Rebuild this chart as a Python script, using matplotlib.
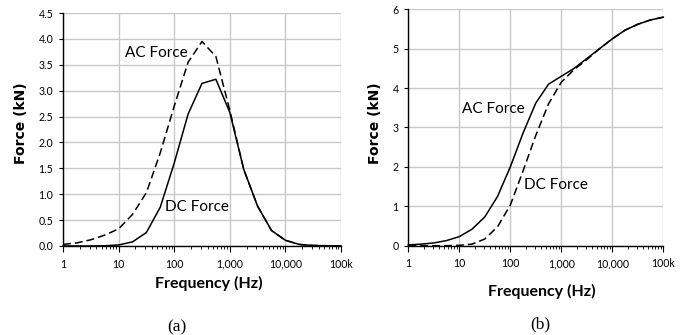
import matplotlib
matplotlib.use("Agg")
import matplotlib.pyplot as plt
from matplotlib.ticker import FixedLocator, FixedFormatter, LogLocator, NullFormatter

freq = [1, 1.78, 3.16, 5.62, 10, 17.8, 31.6, 56.2, 100, 178, 316, 562,
        1000, 1780, 3160, 5620, 10000, 17800, 31600, 56200, 100000]

# panel (a)
a_dc = [0.0, 0.0, 0.0, 0.005, 0.02, 0.08, 0.26, 0.75, 1.6, 2.55, 3.14, 3.22,
        2.58, 1.48, 0.77, 0.30, 0.11, 0.03, 0.01, 0.005, 0.0]
a_ac = [0.03, 0.06, 0.12, 0.21, 0.33, 0.61, 1.03, 1.8, 2.7, 3.55, 3.95, 3.66,
        2.62, 1.48, 0.77, 0.30, 0.11, 0.03, 0.01, 0.005, 0.0]

# panel (b)
b_ac = [0.02, 0.04, 0.07, 0.13, 0.23, 0.42, 0.73, 1.25, 2.0, 2.86, 3.62, 4.1,
        4.3, 4.5, 4.75, 5.0, 5.25, 5.47, 5.62, 5.73, 5.8]
b_dc = [0.0, 0.0, 0.0, 0.0, 0.01, 0.04, 0.17, 0.48, 1.03, 1.9, 2.8, 3.6,
        4.15, 4.47, 4.72, 5.0, 5.25, 5.47, 5.62, 5.73, 5.8]

xticks = [1, 10, 100, 1000, 10000, 100000]
xticklabels = ["1", "10", "100", "1,000", "10,000", "100k"]
a_yticks = [0.0, 0.5, 1.0, 1.5, 2.0, 2.5, 3.0, 3.5, 4.0, 4.5]
a_yticklabels = ["0.0", "0.5", "1.0", "1.5", "2.0", "2.5", "3.0", "3.5", "4.0", "4.5"]
b_yticks = [0, 1, 2, 3, 4, 5, 6]
b_yticklabels = ["0", "1", "2", "3", "4", "5", "6"]

TICKFONT = ["Lato", "DejaVu Sans"]
W, H = 685, 335
fig = plt.figure(figsize=(W / 100, H / 100), dpi=100)

dash = (0, (5.2, 2.6))
lw = 1.1

def style(ax, yticks, yticklabels, ymax):
    ax.set_xscale("log")
    ax.set_xlim(1, 100000)
    ax.set_ylim(0, ymax)
    ax.xaxis.set_major_locator(FixedLocator(xticks))
    ax.xaxis.set_major_formatter(FixedFormatter(xticklabels))
    ax.xaxis.set_minor_locator(LogLocator(base=10, subs=range(2, 10)))
    ax.xaxis.set_minor_formatter(NullFormatter())
    ax.set_yticks(yticks)
    ax.set_yticklabels(yticklabels)
    for s in ("top", "right"):
        ax.spines[s].set_visible(False)
    for s in ("left", "bottom"):
        ax.spines[s].set_linewidth(1.0)
        ax.spines[s].set_color("black")
    ax.grid(True, which="major", color="#c8c8c8", linewidth=1.0)
    ax.set_axisbelow(True)
    ax.tick_params(axis="x", which="major", direction="out", length=4, width=0.8,
                   pad=5, labelsize=7.6, colors="black")
    ax.tick_params(axis="x", which="minor", direction="out", length=2.5, width=0.6)
    ax.tick_params(axis="y", which="major", direction="out", length=3, width=0.8,
                   pad=4, labelsize=7.6)
    for lab in ax.get_xticklabels() + ax.get_yticklabels():
        lab.set_family(TICKFONT)

# (a)
ax1 = fig.add_axes([63 / W, 1 - 246 / H, 278 / W, 233 / H])
ax1.plot(freq, a_ac, color="black", lw=lw, linestyle=dash, dash_capstyle="butt",
         clip_on=False)
ax1.plot(freq, a_dc, color="black", lw=lw, clip_on=False)
style(ax1, a_yticks, a_yticklabels, 4.5)
ax1.text(0.337, 0.828, "AC Force", transform=ax1.transAxes, ha="center", va="center",
         fontsize=11, family=TICKFONT)
ax1.text(0.482, 0.167, "DC Force", transform=ax1.transAxes, ha="center", va="center",
         fontsize=11, family=TICKFONT)

# (b)
ax2 = fig.add_axes([408.3 / W, 1 - 245.7 / H, 255 / W, 236.4 / H])
ax2.plot(freq, b_dc, color="black", lw=lw, linestyle=dash, dash_capstyle="butt",
         clip_on=False)
ax2.plot(freq, b_ac, color="black", lw=lw, clip_on=False)
style(ax2, b_yticks, b_yticklabels, 6)
ax2.text(0.332, 0.578, "AC Force", transform=ax2.transAxes, ha="center", va="center",
         fontsize=11, family=TICKFONT)
ax2.text(0.579, 0.257, "DC Force", transform=ax2.transAxes, ha="center", va="center",
         fontsize=11, family=TICKFONT)

# axis titles and panel labels (figure pixel positions)
def ftext(x, y, s, **kw):
    fig.text(x / W, 1 - y / H, s, ha="center", va="center", **kw)

ftext(209, 283, "Frequency (Hz)", fontsize=11.5, fontweight="bold", family=TICKFONT)
ftext(541.7, 291, "Frequency (Hz)", fontsize=11.5, fontweight="bold", family=TICKFONT)
ftext(21, 123, "Force (kN)", fontsize=10, fontweight="bold", family=["DejaVu Sans"],
      rotation=90)
ftext(375, 123, "Force (kN)", fontsize=10, fontweight="bold", family=["DejaVu Sans"],
      rotation=90)
ftext(177, 327, "(a)", fontsize=12.5, family=["Liberation Serif", "DejaVu Serif"])
ftext(540, 324, "(b)", fontsize=12.5, family=["Liberation Serif", "DejaVu Serif"])

fig.savefig("out.png", dpi=100)
